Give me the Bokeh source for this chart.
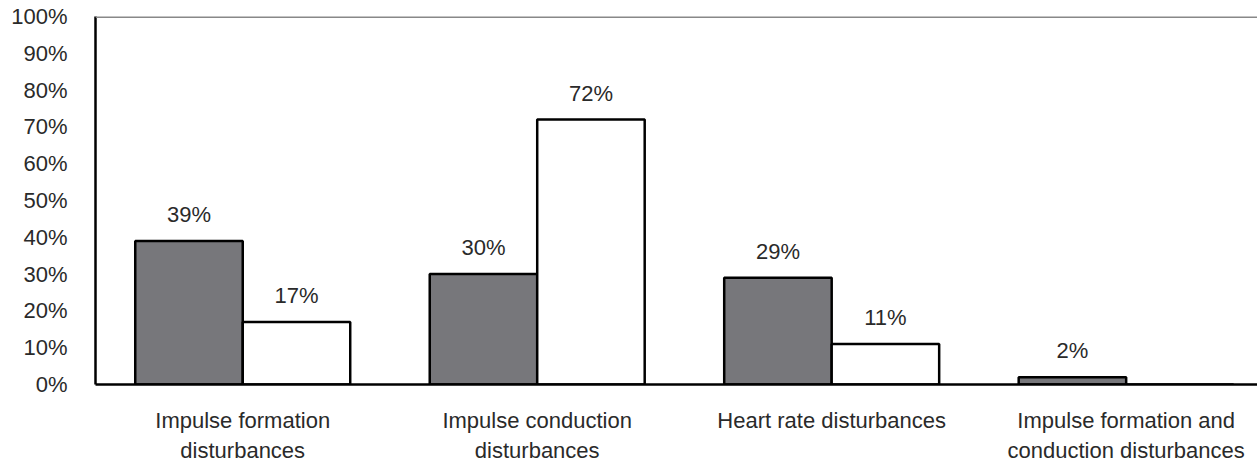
from bokeh.plotting import figure
from bokeh.models import ColumnDataSource, FixedTicker, LabelSet, Span
from bokeh.core.properties import value
from bokeh.embed import file_html
from bokeh.resources import INLINE

categories = ["Impulse formation\ndisturbances", "Impulse conduction\ndisturbances",
              "Heart rate disturbances", "Impulse formation and\nconduction disturbances"]
series_dark = [39, 30, 29, 2]
series_white = [17, 72, 11, 0]
y_ticks = [0, 10, 20, 30, 40, 50, 60, 70, 80, 90, 100]

FONT = "Liberation Sans"
FS = "22px"
TC = "#2a2a2a"
bw = 0.365
centers = [i + 0.5 for i in range(len(categories))]

p = figure(width=1257, height=465, output_backend="svg", toolbar_location=None,
           x_range=(0, 3.946), y_range=(0, 100),
           min_border_left=95, min_border_right=0, min_border_top=16, min_border_bottom=70)
p.outline_line_color = None
p.grid.grid_line_color = None
p.background_fill_color = "white"
p.border_fill_color = "white"

dark = ColumnDataSource(dict(x=[c - bw / 2 for c in centers], top=series_dark,
                             lab=[f"{v}%" if v else "" for v in series_dark]))
white = ColumnDataSource(dict(x=[c + bw / 2 for c in centers], top=series_white,
                              lab=[f"{v}%" if v else "" for v in series_white]))

p.vbar(x="x", top="top", bottom=0, width=bw, source=dark, fill_color="#77777b",
       line_color="black", line_width=2.5)
p.vbar(x="x", top="top", bottom=0, width=bw, source=white, fill_color="white",
       line_color="black", line_width=2.5)

for src in (dark, white):
    p.add_layout(LabelSet(x="x", y="top", text="lab", source=src, text_align="center",
                          text_baseline="alphabetic", y_offset=19, text_font=value(FONT),
                          text_font_size=FS, text_color=TC))

p.add_layout(Span(location=100, dimension="width", line_color="#888888", line_width=3))

p.yaxis.ticker = FixedTicker(ticks=y_ticks)
p.yaxis.major_label_overrides = {t: f"{t}%" for t in y_ticks}
p.yaxis.major_label_standoff = 28
p.yaxis.axis_line_color = "black"
p.yaxis.axis_line_width = 2.5

p.xaxis.ticker = FixedTicker(ticks=centers)
p.xaxis.major_label_overrides = {c: lab for c, lab in zip(centers, categories)}
p.xaxis.major_label_standoff = 23
p.xaxis.axis_line_color = "black"
p.xaxis.axis_line_width = 2.5

for ax in (p.xaxis, p.yaxis):
    ax.major_tick_out = 0
    ax.major_tick_in = 0
    ax.minor_tick_out = 0
    ax.minor_tick_in = 0
    ax.major_label_text_font = FONT
    ax.major_label_text_font_size = FS
    ax.major_label_text_font_style = "normal"
    ax.major_label_text_color = TC

open("out.html", "w").write(file_html(p, INLINE))
